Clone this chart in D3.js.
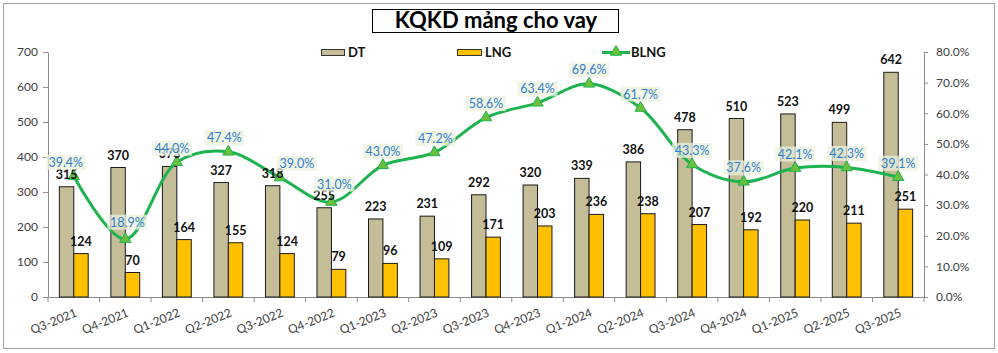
<!DOCTYPE html>
<html>
<head>
<meta charset="utf-8">
<script src="https://cdn.jsdelivr.net/npm/d3@7.9.0/dist/d3.min.js"></script>
<style>
  body { margin: 0; background: #fff; }
  svg { font-family: Lato, "Liberation Sans", sans-serif; }
</style>
</head>
<body>
<svg id="chart" width="998" height="353"></svg>
<script>
// data
const quarters = ['Q3-2021','Q4-2021','Q1-2022','Q2-2022','Q3-2022','Q4-2022','Q1-2023','Q2-2023',
  'Q3-2023','Q4-2023','Q1-2024','Q2-2024','Q3-2024','Q4-2024','Q1-2025','Q2-2025','Q3-2025'];
const dt = [315, 370, 373, 327, 318, 255, 223, 231, 292, 320, 339, 386, 478, 510, 523, 499, 642];
const lng = [124, 70, 164, 155, 124, 79, 96, 109, 171, 203, 236, 238, 207, 192, 220, 211, 251];
const blng = [0.394, 0.189, 0.440, 0.474, 0.390, 0.310, 0.430, 0.472, 0.586, 0.634, 0.696, 0.617,
  0.433, 0.376, 0.421, 0.423, 0.391];
const leftTicks = [0, 100, 200, 300, 400, 500, 600, 700];
const rightTicks = [0, 0.1, 0.2, 0.3, 0.4, 0.5, 0.6, 0.7, 0.8];

// hand-placed label nudges (px) like in the original sheet
const pctNudgeX = [-8, 2, -5, -4, 17, 3, 0, 1, 0, 0, 0, 0, 0, 0, 0, 0, 0];
const pctNudgeY = [0, -3, 0, 0, 0, -4, 0, 0, 0, 0, 0, 0, 0, 0, 0, 0, 0];

const svg = d3.select('#chart');
const plotL = 48, plotR = 924, plotT = 52, plotB = 297;
const axisColor = '#8c8c8c';

const rows = quarters.map((q, i) => ({ q, i, dt: dt[i], lng: lng[i], blng: blng[i] }));

const x = d3.scaleBand().domain(quarters).range([plotL, plotR]).paddingInner(0.44).paddingOuter(0.22);
const xs = d3.scaleBand().domain(['dt', 'lng']).range([0, x.bandwidth()]);
const yL = d3.scaleLinear().domain([0, 700]).range([plotB, plotT]);
const yR = d3.scaleLinear().domain([0, 0.8]).range([plotB, plotT]);
const cx = q => x(q) + x.bandwidth() / 2;

// outer frame
svg.append('rect').attr('x', 3.5).attr('y', 3.5).attr('width', 991).attr('height', 345)
  .attr('fill', '#fff').attr('stroke', '#a0a0a0');

// title
svg.append('rect').attr('x', 372.5).attr('y', 9.5).attr('width', 246).attr('height', 23)
  .attr('fill', '#fff').attr('stroke', '#000');
svg.append('text').attr('x', 496).attr('y', 28).attr('text-anchor', 'middle')
  .attr('font-size', 22).attr('font-weight', 'bold').text('KQKD mảng cho vay');

// axes
const axL = svg.append('g').attr('transform', `translate(${plotL},0)`)
  .call(d3.axisLeft(yL).tickValues(leftTicks).tickSize(5).tickSizeOuter(0).tickPadding(5));
const axR = svg.append('g').attr('transform', `translate(${plotR},0)`)
  .call(d3.axisRight(yR).tickValues(rightTicks).tickFormat(d3.format('.1%')).tickSize(4).tickSizeOuter(0).tickPadding(8));
const axB = svg.append('g').attr('transform', `translate(0,${plotB})`)
  .call(d3.axisBottom(x).tickSize(0).tickSizeOuter(0).tickPadding(0));

[axL, axR, axB].forEach(g => {
  g.selectAll('path, line').attr('stroke', axisColor);
  g.selectAll('text').attr('font-size', 12).attr('fill', '#404040').attr('font-family', 'Lato, sans-serif');
});
axB.selectAll('text')
  .attr('text-anchor', 'end')
  .attr('dy', 0)
  .attr('transform', 'translate(4,19) rotate(-22)');

// category boundary ticks on x axis
const step = x.step();
svg.append('g').selectAll('line').data(d3.range(quarters.length + 1)).join('line')
  .attr('x1', i => plotL + i * step).attr('x2', i => plotL + i * step)
  .attr('y1', plotB).attr('y2', plotB + 5).attr('stroke', axisColor);

// bars
const bars = svg.append('g');
bars.selectAll('rect.dt').data(rows).join('rect').attr('class', 'dt')
  .attr('x', d => x(d.q) + xs('dt')).attr('width', xs.bandwidth())
  .attr('y', d => yL(d.dt)).attr('height', d => plotB - yL(d.dt))
  .attr('fill', '#c4bd97').attr('stroke', '#1a1a1a').attr('stroke-width', 1);
bars.selectAll('rect.lng').data(rows).join('rect').attr('class', 'lng')
  .attr('x', d => x(d.q) + xs('lng')).attr('width', xs.bandwidth())
  .attr('y', d => yL(d.lng)).attr('height', d => plotB - yL(d.lng))
  .attr('fill', '#ffc000').attr('stroke', '#1a1a1a').attr('stroke-width', 1);

// BLNG line
const line = d3.line().x(d => cx(d.q)).y(d => yR(d.blng)).curve(d3.curveCatmullRom.alpha(0.5));
svg.append('path').datum(rows).attr('d', line)
  .attr('fill', 'none').attr('stroke', '#1db34f').attr('stroke-width', 3);

const tri = d3.symbol().type(d3.symbolTriangle).size(55);
svg.append('g').selectAll('path').data(rows).join('path')
  .attr('d', tri)
  .attr('transform', d => `translate(${cx(d.q)},${yR(d.blng)})`)
  .attr('fill', '#6cbf3c').attr('stroke', '#1db34f').attr('stroke-width', 1);

// bar value labels (drawn above the line, like Excel data labels)
const vlab = svg.append('g').attr('font-size', 12.5).attr('font-weight', 'bold').attr('fill', '#111')
  .attr('text-anchor', 'middle');
vlab.selectAll('text.dt').data(rows).join('text').attr('class', 'dt')
  .attr('x', d => x(d.q) + xs('dt') + xs.bandwidth() / 2)
  .attr('y', d => yL(d.dt) - 8).text(d => d.dt);
vlab.selectAll('text.lng').data(rows).join('text').attr('class', 'lng')
  .attr('x', d => x(d.q) + xs('lng') + xs.bandwidth() / 2)
  .attr('y', d => yL(d.lng) - 8).text(d => d.lng);

// percent labels
const fmt = d3.format('.1%');
const pl = svg.append('g').selectAll('g').data(rows).join('g')
  .attr('transform', d => `translate(${cx(d.q) + pctNudgeX[d.i]},${yR(d.blng) - 14 + pctNudgeY[d.i]})`);
pl.append('rect').attr('x', -20).attr('y', -7.5).attr('width', 40).attr('height', 15)
  .attr('fill', '#ebf1de').attr('opacity', 0.75);
pl.append('text').attr('text-anchor', 'middle').attr('y', 4.5)
  .attr('font-size', 12.5).attr('fill', '#2f7fd0').text(d => fmt(d.blng));

// legend
const lg = svg.append('g').attr('font-size', 13).attr('font-weight', 'bold').attr('fill', '#111');
lg.append('rect').attr('x', 321.5).attr('y', 49.5).attr('width', 23).attr('height', 6)
  .attr('fill', '#c4bd97').attr('stroke', '#333');
lg.append('text').attr('x', 348).attr('y', 57).text('DT');
lg.append('rect').attr('x', 457.5).attr('y', 49.5).attr('width', 24).attr('height', 6)
  .attr('fill', '#ffc000').attr('stroke', '#333');
lg.append('text').attr('x', 485).attr('y', 57).text('LNG');
lg.append('line').attr('x1', 602).attr('x2', 630).attr('y1', 52.5).attr('y2', 52.5)
  .attr('stroke', '#1db34f').attr('stroke-width', 3);
lg.append('path').attr('d', tri).attr('transform', 'translate(616,52)')
  .attr('fill', '#6cbf3c').attr('stroke', '#1db34f');
lg.append('text').attr('x', 631).attr('y', 57).text('BLNG');
</script>
</body>
</html>
